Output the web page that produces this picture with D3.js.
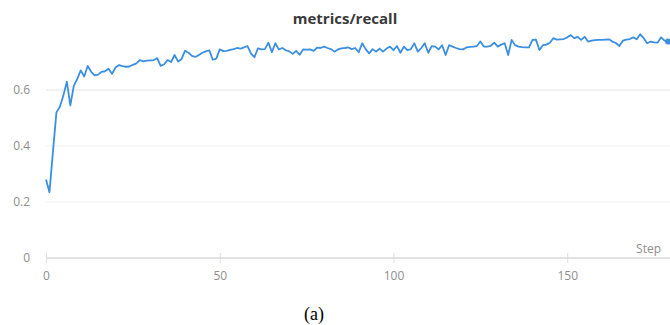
<!DOCTYPE html>
<html>
<head>
<meta charset="utf-8">
<script src="https://cdn.jsdelivr.net/npm/d3@7"></script>
<style>
  body { margin: 0; background: #fff; }
  svg { display: block; }
</style>
</head>
<body>
<script>
//data
const chartTitle = "metrics/recall";
const xTicks = [0, 50, 100, 150];
const yTicks = [0, 0.2, 0.4, 0.6];
const recall = [
  0.28, 0.235, 0.38, 0.52, 0.54, 0.58, 0.63, 0.545, 0.615, 0.64,
  0.67, 0.648, 0.686, 0.665, 0.652, 0.655, 0.665, 0.667, 0.676, 0.658,
  0.68, 0.689, 0.685, 0.683, 0.684, 0.69, 0.695, 0.707, 0.702, 0.705,
  0.706, 0.707, 0.714, 0.686, 0.692, 0.707, 0.70, 0.725, 0.702, 0.71,
  0.74, 0.733, 0.722, 0.718, 0.725, 0.733, 0.738, 0.742, 0.708, 0.712,
  0.745, 0.739, 0.74, 0.743, 0.746, 0.75, 0.748, 0.752, 0.757, 0.73,
  0.717, 0.749, 0.745, 0.746, 0.769, 0.735, 0.767, 0.745, 0.75, 0.742,
  0.738, 0.729, 0.74, 0.726, 0.745, 0.744, 0.745, 0.74, 0.751, 0.75,
  0.755, 0.75, 0.746, 0.737, 0.745, 0.749, 0.75, 0.752, 0.746, 0.75,
  0.735, 0.767, 0.746, 0.731, 0.746, 0.737, 0.748, 0.737, 0.748, 0.755,
  0.742, 0.757, 0.733, 0.755, 0.742, 0.746, 0.767, 0.737, 0.75, 0.767,
  0.733, 0.757, 0.755, 0.745, 0.76, 0.725, 0.76, 0.755, 0.75, 0.746,
  0.745, 0.752, 0.754, 0.755, 0.757, 0.773, 0.755, 0.755, 0.758, 0.769,
  0.755, 0.762, 0.767, 0.725, 0.779, 0.76, 0.755, 0.753, 0.752, 0.752,
  0.779, 0.78, 0.743, 0.76, 0.762, 0.769, 0.785, 0.78, 0.781, 0.782,
  0.788, 0.796, 0.785, 0.79, 0.779, 0.79, 0.773, 0.776, 0.778, 0.779,
  0.779, 0.78, 0.781, 0.773, 0.768, 0.757, 0.776, 0.78, 0.782, 0.788,
  0.781, 0.799, 0.785, 0.767, 0.773, 0.77, 0.769, 0.788, 0.776, 0.773
];

//configuration
const width = 670;
const height = 325;
const plotLeft = 46, plotRight = 668, plotTop = 34, plotBottom = 258;
const lineColor = "#3b8ee0";

const x = d3.scaleLinear()
  .domain([0, recall.length - 1])
  .range([plotLeft, plotRight]);
const y = d3.scaleLinear()
  .domain([0, 0.8])
  .range([plotBottom, plotTop]);

const svg = d3.select("body")
  .append("svg")
  .attr("width", width)
  .attr("height", height)
  .style("font-family", "'Open Sans', sans-serif");

//grid lines
svg.append("g")
  .selectAll("line")
  .data(yTicks.filter(d => d > 0))
  .join("line")
    .attr("x1", plotLeft)
    .attr("x2", width)
    .attr("y1", d => y(d))
    .attr("y2", d => y(d))
    .attr("stroke", d => d === 0.6 ? "#e3e3e3" : "#f1f1f1")
    .attr("stroke-width", 1);

//y labels
svg.append("g")
  .selectAll("text")
  .data(yTicks)
  .join("text")
    .attr("x", 30)
    .attr("y", d => y(d))
    .attr("dy", "0.35em")
    .attr("text-anchor", "end")
    .attr("fill", "#8e8e8e")
    .style("font-size", "12px")
    .text(d => d3.format("")(d));

//x axis
const xAxis = d3.axisBottom(x)
  .tickValues(xTicks)
  .tickSize(5)
  .tickPadding(8)
  .tickFormat(d3.format("d"));

const gx = svg.append("g")
  .attr("transform", `translate(0, ${plotBottom})`)
  .call(xAxis);
gx.select(".domain").remove();
gx.insert("line", ":first-child")
  .attr("x1", plotLeft)
  .attr("x2", width)
  .attr("stroke", "#e2e2e2")
  .attr("stroke-width", 2);
gx.selectAll(".tick line")
  .attr("y1", -5)
  .attr("stroke", "#dcdcdc");
gx.selectAll(".tick text")
  .attr("fill", "#8e8e8e")
  .style("font-size", "12px")
  .style("font-family", "'Open Sans', sans-serif");

svg.append("text")
  .attr("x", 661)
  .attr("y", 253)
  .attr("text-anchor", "end")
  .attr("fill", "#8e8e8e")
  .style("font-size", "12px")
  .text("Step");

//series
const line = d3.line()
  .x((d, i) => x(i))
  .y(d => y(d));

svg.append("path")
  .datum(recall)
  .attr("d", line)
  .attr("fill", "none")
  .attr("stroke", lineColor)
  .attr("stroke-width", 1.8)
  .attr("stroke-linejoin", "round");

svg.append("circle")
  .attr("cx", x(recall.length - 1))
  .attr("cy", y(recall[recall.length - 1]))
  .attr("r", 3)
  .attr("fill", lineColor);

//title and caption
svg.append("text")
  .attr("x", 345)
  .attr("y", 24)
  .attr("text-anchor", "middle")
  .attr("fill", "#3a3a3a")
  .style("font-size", "15px")
  .style("font-weight", "bold")
  .text(chartTitle);

svg.append("text")
  .attr("x", 314)
  .attr("y", 320)
  .attr("text-anchor", "middle")
  .attr("fill", "#000")
  .style("font-family", "'Liberation Serif', serif")
  .style("font-size", "18px")
  .text("(a)");
</script>
</body>
</html>
